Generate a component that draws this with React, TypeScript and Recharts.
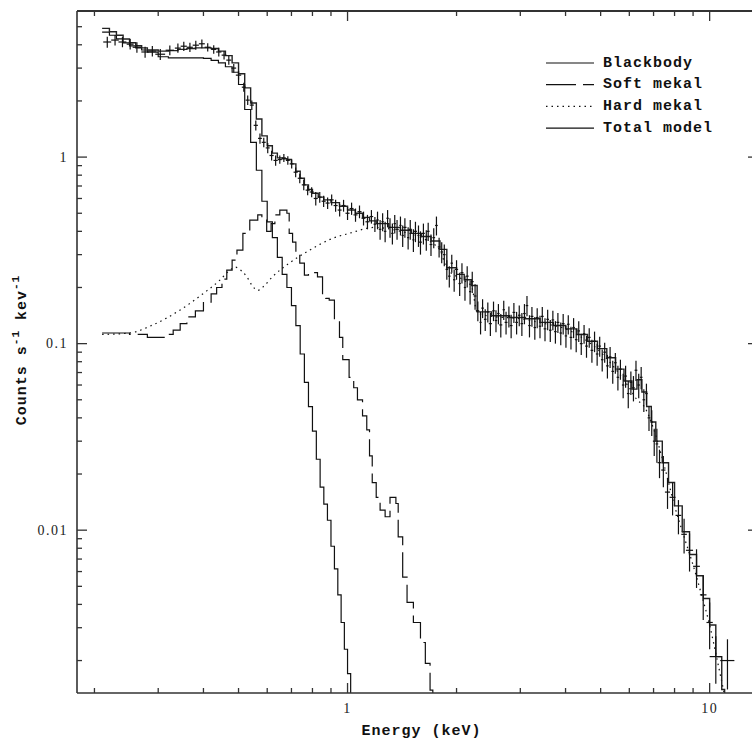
import React from "react";
import { ComposedChart, Line, Scatter, ErrorBar, XAxis, YAxis, Label } from "recharts";

// observed spectrum: bin energy (keV), rate (counts s-1 keV-1), 1-sigma error
const obsEnergy = [
  0.217, 0.228, 0.239, 0.251, 0.262, 0.276, 0.289, 0.304, 0.323, 0.34,
  0.353, 0.367, 0.381, 0.396, 0.411, 0.427, 0.441, 0.456, 0.47, 0.485,
  0.5, 0.517, 0.53, 0.544, 0.558, 0.573, 0.587, 0.602, 0.617, 0.633,
  0.65, 0.667, 0.684, 0.701, 0.719, 0.738, 0.757, 0.776, 0.796, 0.817,
  0.838, 0.859, 0.881, 0.904, 0.927, 0.951, 0.975, 1.0, 1.026, 1.052,
  1.079, 1.107, 1.135, 1.164, 1.19,
  1.21, 1.23, 1.25, 1.27, 1.29, 1.31, 1.33, 1.35, 1.37,
  1.4, 1.42, 1.44, 1.47, 1.49, 1.52, 1.54, 1.57, 1.59, 1.62,
  1.65, 1.67, 1.7, 1.73, 1.76, 1.79, 1.82, 1.85,
  1.88, 1.91, 1.94, 1.97, 2.0, 2.04, 2.07, 2.11, 2.14, 2.18, 2.21, 2.25,
  2.29, 2.33, 2.36, 2.4, 2.44, 2.48, 2.53, 2.57, 2.61, 2.65, 2.7, 2.74, 2.79, 2.83, 2.88, 2.93, 2.98,
  3.03, 3.08, 3.13, 3.18, 3.23, 3.29, 3.34, 3.4, 3.45, 3.51, 3.57,
  3.63, 3.69, 3.75, 3.81, 3.88, 3.94, 4.01, 4.07, 4.14, 4.21, 4.28, 4.35,
  4.42, 4.5, 4.57, 4.65, 4.73, 4.81, 4.89, 4.97,
  5.05, 5.13, 5.22, 5.31, 5.4, 5.49, 5.58,
  5.67, 5.77, 5.86, 5.96, 6.06,
  6.16, 6.26, 6.37, 6.47,
  6.58, 6.69, 6.8, 6.92, 7.03, 7.15, 7.27,
  7.45, 7.65, 7.9, 8.2, 8.5, 8.8, 9.2, 9.6, 10.0, 10.4, 11.2,
];
const obsRate = [
  4.14, 4.24, 4.14, 4.03, 3.88, 3.66, 3.7, 3.56, 3.74, 3.84,
  3.93, 3.88, 3.98, 4.05, 3.88, 3.78, 3.66, 3.52, 3.31, 3.0,
  2.75, 2.37, 2.02, 1.9, 1.48, 1.26, 1.2, 1.12, 1.02, 0.96,
  0.97, 0.99, 0.96, 0.92, 0.83, 0.77, 0.71, 0.665, 0.65, 0.6,
  0.61, 0.58, 0.567, 0.59, 0.55, 0.52, 0.55, 0.5, 0.53, 0.49,
  0.51, 0.47, 0.45, 0.48, 0.437,
  0.46, 0.41, 0.45, 0.4, 0.47, 0.42, 0.39, 0.44, 0.41,
  0.43, 0.38, 0.42, 0.37, 0.41, 0.36, 0.4, 0.38, 0.35, 0.39,
  0.36, 0.4, 0.34, 0.37, 0.43, 0.33, 0.31, 0.3,
  0.25, 0.23, 0.27, 0.22, 0.25, 0.21, 0.24, 0.2, 0.23, 0.19, 0.215, 0.18,
  0.15, 0.13, 0.155, 0.135, 0.148, 0.128, 0.15, 0.133, 0.145, 0.126, 0.152, 0.13, 0.14, 0.125, 0.147, 0.13, 0.142,
  0.128, 0.145, 0.16, 0.125, 0.14, 0.122, 0.138, 0.124, 0.14, 0.12, 0.135,
  0.118, 0.134, 0.116, 0.13, 0.114, 0.128, 0.11, 0.127, 0.108, 0.122, 0.105, 0.117,
  0.1, 0.113, 0.097, 0.108, 0.092, 0.103, 0.088, 0.097,
  0.082, 0.09, 0.076, 0.085, 0.071, 0.079, 0.066,
  0.073, 0.06, 0.067, 0.054, 0.062,
  0.058, 0.072, 0.06, 0.066,
  0.05, 0.054, 0.04, 0.038, 0.03, 0.029, 0.023,
  0.021, 0.016, 0.015, 0.012, 0.0095, 0.0078, 0.0064, 0.0045, 0.0032, 0.0021, 0.002,
];
const obsErr = [
  0.28, 0.28, 0.26, 0.26, 0.25, 0.25, 0.24, 0.24, 0.22, 0.22,
  0.22, 0.22, 0.22, 0.22, 0.2, 0.2, 0.2, 0.18, 0.18, 0.16,
  0.15, 0.13, 0.12, 0.11, 0.09, 0.08, 0.07, 0.07, 0.06, 0.06,
  0.05, 0.05, 0.05, 0.05, 0.05, 0.045, 0.045, 0.04, 0.04, 0.05,
  0.04, 0.04, 0.04, 0.04, 0.04, 0.04, 0.04, 0.04, 0.04, 0.04,
  0.04, 0.04, 0.04, 0.04, 0.04,
  0.05, 0.05, 0.05, 0.05, 0.05, 0.05, 0.05, 0.05, 0.05,
  0.05, 0.05, 0.05, 0.05, 0.05, 0.05, 0.05, 0.05, 0.05, 0.05,
  0.045, 0.045, 0.045, 0.045, 0.05, 0.04, 0.04, 0.04,
  0.03, 0.03, 0.03, 0.03, 0.03, 0.03, 0.03, 0.03, 0.03, 0.028, 0.028, 0.028,
  0.018, 0.018, 0.018, 0.018, 0.018, 0.018, 0.018, 0.018, 0.018, 0.018, 0.018, 0.018, 0.018, 0.018, 0.018, 0.018, 0.018,
  0.018, 0.018, 0.02, 0.017, 0.017, 0.017, 0.017, 0.017, 0.017, 0.017, 0.017,
  0.016, 0.016, 0.016, 0.016, 0.016, 0.016, 0.015, 0.015, 0.015, 0.015, 0.015, 0.015,
  0.013, 0.013, 0.013, 0.013, 0.013, 0.013, 0.012, 0.012,
  0.011, 0.011, 0.011, 0.011, 0.01, 0.01, 0.01,
  0.009, 0.009, 0.009, 0.009, 0.009,
  0.009, 0.009, 0.009, 0.009,
  0.007, 0.007, 0.006, 0.006, 0.005, 0.006, 0.004,
  0.004, 0.003, 0.003, 0.0025, 0.002, 0.0018, 0.0015, 0.0012, 0.0009, 0.0006, 0.0006,
];

const bbEnergy = [
  0.21, 0.22, 0.23, 0.24, 0.25, 0.26, 0.27, 0.28, 0.3, 0.32,
  0.36, 0.4, 0.42, 0.44, 0.46, 0.48, 0.5, 0.52, 0.54, 0.56,
  0.58, 0.6, 0.62, 0.64, 0.66, 0.68, 0.7, 0.72, 0.74, 0.76,
  0.78, 0.8, 0.82, 0.84, 0.86, 0.88, 0.9, 0.92, 0.94, 0.96,
  0.98, 1.0, 1.02,
];
const bbRate = [
  4.68, 4.5, 4.3, 4.1, 3.95, 3.85, 3.75, 3.65, 3.45, 3.4,
  3.4, 3.38, 3.3, 3.2, 3.05, 2.85, 2.45, 1.8, 1.2, 0.85,
  0.58, 0.45, 0.37, 0.29, 0.235, 0.2, 0.16, 0.125, 0.088, 0.062,
  0.046, 0.034, 0.024, 0.017, 0.0138, 0.0113, 0.0082, 0.0062, 0.0045, 0.0032,
  0.0023, 0.0017, 0.0008,
];

const softEnergy = [
  0.21, 0.25, 0.28, 0.3, 0.32, 0.33, 0.345, 0.36, 0.38, 0.4,
  0.42, 0.435, 0.45, 0.464, 0.48, 0.495, 0.514, 0.537, 0.565, 0.58,
  0.598, 0.615, 0.63, 0.65, 0.68, 0.69, 0.705, 0.72, 0.738, 0.76,
  0.78, 0.8, 0.826, 0.853, 0.87, 0.89, 0.92, 0.95, 0.97, 1.01,
  1.04, 1.065, 1.1, 1.13, 1.15, 1.17, 1.2, 1.23, 1.27, 1.31,
  1.36, 1.38, 1.42, 1.46, 1.52, 1.59, 1.64, 1.69, 1.72,
];
const softRate = [
  0.114, 0.112, 0.108, 0.108, 0.112, 0.118, 0.128, 0.139, 0.15, 0.167,
  0.185, 0.2, 0.222, 0.248, 0.28, 0.317, 0.39, 0.459, 0.49, 0.46,
  0.4, 0.44, 0.49, 0.52, 0.5, 0.39, 0.35, 0.3, 0.27, 0.233,
  0.238, 0.24, 0.228, 0.178, 0.175, 0.171, 0.133, 0.108, 0.082, 0.066,
  0.058, 0.05, 0.041, 0.0345, 0.025, 0.018, 0.015, 0.0128, 0.0118, 0.015,
  0.0139, 0.0092, 0.0056, 0.0041, 0.0032, 0.0025, 0.00193, 0.00139, 0.001,
];

const hardEnergy = [
  0.21, 0.25, 0.29, 0.344, 0.4, 0.444, 0.47, 0.49, 0.51, 0.527,
  0.545, 0.565, 0.59, 0.62, 0.69, 0.786, 0.91, 1.01, 1.19, 1.4,
  1.6, 1.8, 1.88, 2.1, 2.2, 2.28, 2.5, 3.0, 3.5, 4.0,
  4.5, 5.0, 5.5, 6.0, 6.3, 6.6, 7.0, 7.5, 8.0, 8.5,
  9.0, 9.5, 10.0, 10.5, 11.0,
];
const hardRate = [
  0.112, 0.114, 0.126, 0.151, 0.186, 0.219, 0.245, 0.257, 0.245, 0.228,
  0.205, 0.193, 0.205, 0.228, 0.27, 0.317, 0.367, 0.39, 0.42, 0.4,
  0.37, 0.317, 0.253, 0.218, 0.203, 0.147, 0.14, 0.136, 0.128, 0.12,
  0.106, 0.09, 0.073, 0.058, 0.05, 0.046, 0.035, 0.022, 0.0135, 0.0092,
  0.0065, 0.0045, 0.0031, 0.002, 0.0013,
];

const totalEnergy = [
  0.21, 0.22, 0.23, 0.24, 0.25, 0.26, 0.27, 0.28, 0.3, 0.32,
  0.34, 0.36, 0.38, 0.4, 0.42, 0.44, 0.46, 0.48, 0.5, 0.52,
  0.54, 0.56, 0.58, 0.6, 0.62, 0.64, 0.66, 0.68, 0.7, 0.72,
  0.74, 0.76, 0.78, 0.8, 0.83, 0.86, 0.9, 0.95, 1.0, 1.05,
  1.1, 1.15, 1.2, 1.3, 1.4, 1.5, 1.6, 1.7, 1.8, 1.88,
  2.0, 2.1, 2.2, 2.28, 2.5, 2.8, 3.1, 3.4, 3.7, 4.0,
  4.3, 4.6, 4.9, 5.2, 5.5, 5.8, 6.1, 6.3, 6.5, 6.7,
  6.9, 7.1, 7.4, 7.7, 8.0, 8.4, 8.8, 9.2, 9.6, 10.0,
  10.4, 10.8, 11.0,
];
const totalRate = [
  4.9, 4.7, 4.5, 4.3, 4.1, 3.95, 3.85, 3.75, 3.7, 3.72,
  3.78, 3.82, 3.85, 3.85, 3.82, 3.7, 3.5, 3.2, 2.8, 2.35,
  1.95, 1.6, 1.3, 1.15, 1.05, 0.99, 0.98, 0.97, 0.92, 0.84,
  0.77, 0.71, 0.67, 0.64, 0.61, 0.59, 0.57, 0.545, 0.52, 0.5,
  0.475, 0.455, 0.44, 0.42, 0.405, 0.39, 0.375, 0.355, 0.32, 0.255,
  0.235, 0.22, 0.205, 0.148, 0.141, 0.138, 0.136, 0.13, 0.125, 0.12,
  0.112, 0.103, 0.094, 0.084, 0.073, 0.063, 0.057, 0.064, 0.055, 0.046,
  0.038, 0.03, 0.023, 0.018, 0.0135, 0.0098, 0.0074, 0.0057, 0.0043, 0.0031,
  0.0021, 0.0014, 0.0009,
];

const seriesNames = ["Blackbody", "Soft mekal", "Hard mekal", "Total model"];

const xTicks = [0.2, 0.3, 0.4, 0.5, 0.6, 0.7, 0.8, 0.9, 1, 2, 3, 4, 5, 6, 7, 8, 9, 10];
const xMajor = [1, 10];
const yTicks = [
  0.002, 0.003, 0.004, 0.005, 0.006, 0.007, 0.008, 0.009, 0.01,
  0.02, 0.03, 0.04, 0.05, 0.06, 0.07, 0.08, 0.09, 0.1,
  0.2, 0.3, 0.4, 0.5, 0.6, 0.7, 0.8, 0.9, 1, 2, 3, 4, 5,
];
const yMajor = [0.01, 0.1, 1];

const xDomain = [0.179, 13.6];
const yDomain = [0.00134, 6.07];

const PLOT_TOP = 11; // = chart margin.top, the upper edge of the frame
const FRAME = "#333";
const INK = "#111";
const tickFont = { fontFamily: "Liberation Serif", fontSize: 14, letterSpacing: 1.5, fill: "#222" };
const labelFont = { fontFamily: "Liberation Mono", fontSize: 15, fontWeight: 700, letterSpacing: 1, fill: "#111" };

const pack = (e: number[], v: number[]) => e.map((x, i) => ({ e: x, v: v[i] }));

const obsData = obsEnergy.map((x, i) => {
  const next = obsEnergy[i + 1] ?? x * 1.09;
  return { e: x, v: obsRate[i], err: obsErr[i], hw: (next - x) / 2 };
});
const bbData = pack(bbEnergy, bbRate);
const softData = pack(softEnergy, softRate);
const hardData = pack(hardEnergy, hardRate);
const totalData = pack(totalEnergy, totalRate);

const legendDash = [undefined, "30 7", "1.5 4", undefined];

// bottom tick: inward mark + label, and its mirror hanging from the top edge
function BottomTick(props: any) {
  const { x, y, payload } = props;
  const major = xMajor.includes(payload.value);
  const len = major ? 10 : 5;
  return (
    <g>
      <line x1={x} x2={x} y1={y} y2={y - len} stroke={FRAME} strokeWidth={1.3} />
      <path d={`M${x},${PLOT_TOP}V${PLOT_TOP + len}`} stroke={FRAME} strokeWidth={1.3} fill="none" />
      {major && (
        <text x={x} y={y + 15} textAnchor="middle" dominantBaseline="central" style={tickFont}>
          {payload.value}
        </text>
      )}
    </g>
  );
}

function LeftTick(props: any) {
  const { x, y, payload } = props;
  const major = yMajor.includes(payload.value);
  return (
    <g>
      <line x1={x} x2={x + (major ? 10 : 5)} y1={y} y2={y} stroke={FRAME} strokeWidth={1.3} />
      {major && (
        <text x={x - 9} y={y} textAnchor="end" dominantBaseline="central" style={tickFont}>
          {payload.value}
        </text>
      )}
    </g>
  );
}

function RightTick(props: any) {
  const { x, y, payload } = props;
  const major = yMajor.includes(payload.value);
  return <line x1={x} x2={x - (major ? 10 : 5)} y1={y} y2={y} stroke={FRAME} strokeWidth={1.3} />;
}

export default function App() {
  return (
    <div style={{ position: "absolute", left: 0, top: 0, width: 752, height: 740, overflow: "hidden", background: "#fff" }}>
      <ComposedChart width={780} height={740} margin={{ top: PLOT_TOP, right: 21, bottom: 17, left: 0 }}>
        <XAxis
          dataKey="e"
          type="number"
          scale="log"
          domain={xDomain}
          allowDataOverflow
          ticks={xTicks}
          interval={0}
          height={30}
          tickSize={0}
          tickMargin={0}
          tick={BottomTick}
          axisLine={{ stroke: FRAME, strokeWidth: 1.6 }}
        >
          <Label
            content={(p: any) => (
              <text
                x={p.viewBox.x + p.viewBox.width / 2 + 4}
                y={p.viewBox.y + 38}
                textAnchor="middle"
                dominantBaseline="central"
                style={labelFont}
              >
                Energy (keV)
              </text>
            )}
          />
        </XAxis>
        <YAxis
          dataKey="v"
          type="number"
          scale="log"
          domain={yDomain}
          allowDataOverflow
          ticks={yTicks}
          interval={0}
          width={77}
          tickSize={0}
          tickMargin={0}
          tick={LeftTick}
          axisLine={{ stroke: FRAME, strokeWidth: 1.6 }}
        >
          <Label
            content={(p: any) => {
              const cx = p.viewBox.x + 22;
              const cy = p.viewBox.y + p.viewBox.height / 2 - 2;
              return (
                <text
                  x={cx}
                  y={cy}
                  transform={`rotate(-90 ${cx} ${cy})`}
                  textAnchor="middle"
                  dominantBaseline="central"
                  style={labelFont}
                >
                  Counts s
                  <tspan fontSize={11} dy={-6}>-1</tspan>
                  <tspan dy={6}> kev</tspan>
                  <tspan fontSize={11} dy={-6}>-1</tspan>
                </text>
              );
            }}
          />
        </YAxis>
        <YAxis
          yAxisId="right"
          orientation="right"
          dataKey="v"
          type="number"
          scale="log"
          domain={yDomain}
          allowDataOverflow
          ticks={yTicks}
          interval={0}
          width={1}
          tickSize={0}
          tickMargin={0}
          tick={RightTick}
          axisLine={{ stroke: FRAME, strokeWidth: 1.6 }}
        />
        {/* carries the mirrored right axis; draws nothing */}
        <Line
          yAxisId="right"
          data={totalData}
          dataKey="v"
          stroke="none"
          dot={false}
          activeDot={false}
          legendType="none"
          isAnimationActive={false}
        />
        <Line
          name={seriesNames[2]}
          data={hardData}
          dataKey="v"
          type="monotone"
          stroke={INK}
          strokeWidth={1.2}
          strokeDasharray="1.5 4"
          dot={false}
          isAnimationActive={false}
        />
        <Line
          name={seriesNames[1]}
          data={softData}
          dataKey="v"
          type="stepAfter"
          stroke={INK}
          strokeWidth={1.2}
          strokeDasharray="30 7"
          dot={false}
          isAnimationActive={false}
        />
        <Line
          name={seriesNames[0]}
          data={bbData}
          dataKey="v"
          type="stepAfter"
          stroke={INK}
          strokeWidth={1.2}
          dot={false}
          isAnimationActive={false}
        />
        <Line
          name={seriesNames[3]}
          data={totalData}
          dataKey="v"
          type="stepAfter"
          stroke="#222"
          strokeWidth={1.4}
          dot={false}
          isAnimationActive={false}
        />
        <Scatter name="Data" data={obsData} dataKey="v" shape={() => <g />} isAnimationActive={false}>
          <ErrorBar dataKey="err" direction="y" width={0} stroke={INK} strokeWidth={1.2} />
          <ErrorBar dataKey="hw" direction="x" width={0} stroke={INK} strokeWidth={1.2} />
        </Scatter>
        {/* model key, top right inside the frame */}
        <g transform="translate(540, 50)">
          {seriesNames.map((name, i) => {
            const y = 13 + i * 21.7;
            return (
              <g key={name}>
                <line x1={6} x2={54} y1={y} y2={y} stroke={INK} strokeWidth={1.2} strokeDasharray={legendDash[i]} />
                <text x={63} y={y} dominantBaseline="central" style={labelFont}>
                  {name}
                </text>
              </g>
            );
          })}
        </g>
      </ComposedChart>
      {/* top edge of the plot frame, laid over the chart */}
      <div
        style={{
          position: "absolute",
          left: 77,
          top: PLOT_TOP - 1,
          width: 760,
          height: 0,
          borderTop: `2px solid ${FRAME}`,
          zIndex: 5,
          pointerEvents: "none",
        }}
      />
    </div>
  );
}
